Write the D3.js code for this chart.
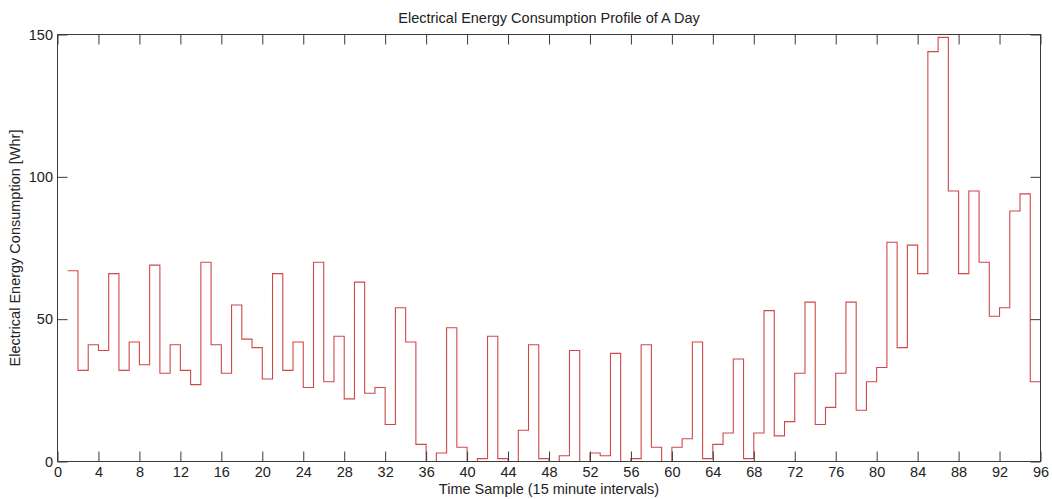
<!DOCTYPE html>
<html>
<head>
<meta charset="utf-8">
<script src="https://cdn.jsdelivr.net/npm/d3@7"></script>
<style>
  html, body { margin: 0; padding: 0; background: #fff; }
  svg { display: block; }
  text { font-family: "Liberation Sans", Arial, sans-serif; fill: #222; }
</style>
</head>
<body>
<svg id="chart" width="1052" height="499"></svg>
<script>
// Energy used in each 15-minute interval of one day (Whr), samples 1..96
const consumption = [
  67, 32, 41, 39, 66, 32, 42, 34, 69, 31, 41, 32,
  27, 70, 41, 31, 55, 43, 40, 29, 66, 32, 42, 26,
  70, 28, 44, 22, 63, 24, 26, 13, 54, 42, 6, 0,
  3, 47, 5, 0, 1, 44, 1, 0, 11, 41, 1, 0,
  2, 39, 0, 3, 2, 38, 0, 1, 41, 5, 0, 5,
  8, 42, 1, 6, 10, 36, 1, 10, 53, 9, 14, 31,
  56, 13, 19, 31, 56, 18, 28, 33, 77, 40, 76, 66,
  144, 149, 95, 66, 95, 70, 51, 54, 88, 94, 28, 28
];
const samples = consumption.map((_, i) => i + 1);
const xTicks = d3.range(0, 97, 4);
const yTicks = [0, 50, 100, 150];

const titleText = "Electrical Energy Consumption Profile of A Day";
const xLabel = "Time Sample (15 minute intervals)";
const yLabel = "Electrical Energy Consumption [Whr]";

const svg = d3.select("#chart");
const plotLeft = 57.5, plotRight = 1040.5, plotTop = 34.5, plotBottom = 461.5;

const x = d3.scaleLinear().domain([0, 96]).range([plotLeft, plotRight]);
const y = d3.scaleLinear().domain([0, 150]).range([plotBottom, plotTop]);

const fontSize = "14.5px";
const axisColor = "#3a3a3a";

// Stairs trace: each value holds until the next sample
const line = d3.line()
  .x((d, i) => x(samples[i]))
  .y(d => y(d))
  .curve(d3.curveStepAfter);

svg.append("path")
  .datum(consumption)
  .attr("d", line)
  .attr("fill", "none")
  .attr("stroke", "#d04848")
  .attr("stroke-width", 1.1);

// Axes with inward-pointing ticks on all four sides
function styleAxis(g) {
  g.select(".domain").remove();
  g.selectAll(".tick line").attr("stroke", axisColor);
  g.selectAll(".tick text").attr("font-size", fontSize).attr("fill", "#222")
    .attr("font-family", "Liberation Sans, Arial, sans-serif");
}

svg.append("g")
  .attr("transform", `translate(0,${plotBottom})`)
  .call(d3.axisBottom(x).tickValues(xTicks).tickSize(-10).tickSizeOuter(0).tickPadding(5.5))
  .call(styleAxis);

svg.append("g")
  .attr("transform", `translate(0,${plotTop})`)
  .call(d3.axisTop(x).tickValues(xTicks).tickSize(-10).tickSizeOuter(0).tickFormat(""))
  .call(styleAxis);

svg.append("g")
  .attr("transform", `translate(${plotLeft},0)`)
  .call(d3.axisLeft(y).tickValues(yTicks).tickSize(-10).tickSizeOuter(0).tickPadding(4.5))
  .call(styleAxis);

svg.append("g")
  .attr("transform", `translate(${plotRight},0)`)
  .call(d3.axisRight(y).tickValues(yTicks).tickSize(-10).tickSizeOuter(0).tickFormat(""))
  .call(styleAxis);

// Axes box
svg.append("rect")
  .attr("x", plotLeft).attr("y", plotTop)
  .attr("width", plotRight - plotLeft).attr("height", plotBottom - plotTop)
  .attr("fill", "none")
  .attr("stroke", axisColor)
  .attr("stroke-width", 1);

// Title and axis labels
svg.append("text")
  .attr("x", (plotLeft + plotRight) / 2).attr("y", 22.5)
  .attr("text-anchor", "middle")
  .attr("font-size", fontSize)
  .text(titleText);

svg.append("text")
  .attr("x", (plotLeft + plotRight) / 2).attr("y", 494)
  .attr("text-anchor", "middle")
  .attr("font-size", fontSize)
  .text(xLabel);

svg.append("text")
  .attr("transform", `translate(19.5,${(plotTop + plotBottom) / 2}) rotate(-90)`)
  .attr("text-anchor", "middle")
  .attr("font-size", fontSize)
  .text(yLabel);
</script>
</body>
</html>
